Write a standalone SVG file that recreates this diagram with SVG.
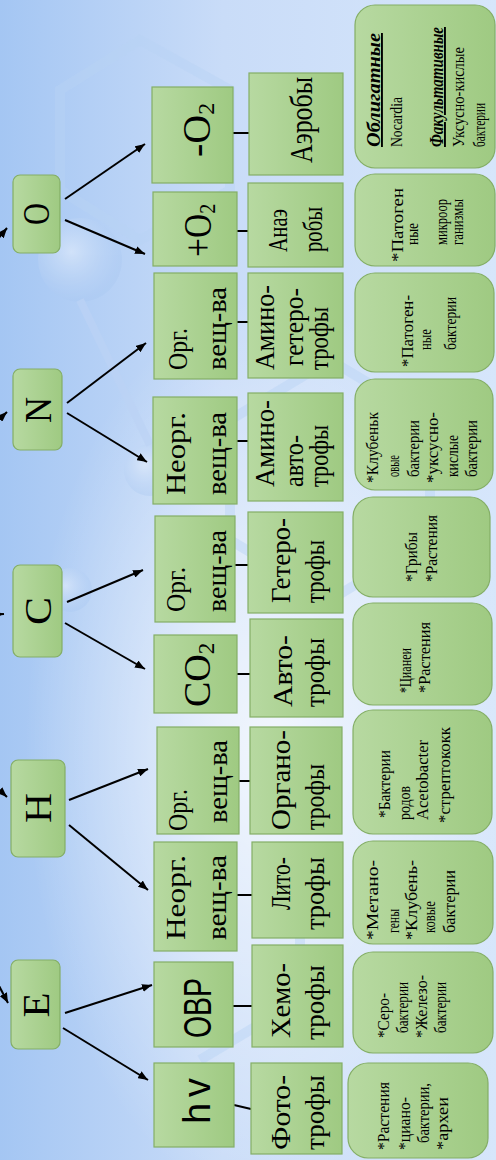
<svg xmlns="http://www.w3.org/2000/svg" width="496" height="1160" viewBox="0 0 496 1160">
<defs>
<linearGradient id="bg" x1="0" y1="0" x2="1" y2="0">
<stop offset="0" stop-color="#a4c6f3"/>
<stop offset="0.45" stop-color="#c9dcf8"/>
<stop offset="1" stop-color="#d6e6fb"/>
</linearGradient>
<radialGradient id="glow" cx="0.55" cy="0.55" r="0.5">
<stop offset="0" stop-color="#ffffff" stop-opacity="0.75"/>
<stop offset="1" stop-color="#ffffff" stop-opacity="0"/>
</radialGradient>
<radialGradient id="sph" cx="0.4" cy="0.4" r="0.6">
<stop offset="0" stop-color="#e4eefc" stop-opacity="0.9"/>
<stop offset="1" stop-color="#a9c8f2" stop-opacity="0.5"/>
</radialGradient>
<linearGradient id="gf" x1="0" y1="0" x2="0" y2="1">
<stop offset="0" stop-color="#b7d9a1"/>
<stop offset="1" stop-color="#9fca82"/>
</linearGradient>
<marker id="ah" viewBox="0 0 10 8" refX="10" refY="4" markerWidth="10" markerHeight="8" markerUnits="userSpaceOnUse" orient="auto">
<path d="M0,0 L10,4 L0,8 z" fill="#000"/>
</marker>
<style>
.n{fill:url(#gf);stroke:#84ae66;stroke-width:1.2}
.t{font-family:"Liberation Serif","Times New Roman",serif;fill:#000}
.s{font-family:"Liberation Sans",Arial,sans-serif;fill:#000}
.L{font-size:38px;text-anchor:middle}
.b{font-size:28px}
.m{font-size:16px}
.h{font-size:19px;font-weight:bold;font-style:italic;text-decoration:underline}
.c line{stroke:#000;stroke-width:2}
.c .a{marker-end:url(#ah)}
</style>
</defs>
<rect x="0" y="0" width="496" height="1160" fill="url(#bg)"/>
<rect x="0" y="250" width="496" height="910" fill="url(#glow)"/>
<g opacity="0.45" fill="none" stroke="#b9d2f5" stroke-width="10">
<path d="M60,90 L140,40 L230,90 L230,190 L140,240 L60,190 Z"/>
<path d="M230,420 L330,360 L430,420 L430,540 L330,600 L230,540 Z"/>
<path d="M300,880 L300,1000 L200,1060"/>
</g>
<g opacity="0.7">
<circle cx="80" cy="260" r="42" fill="url(#sph)"/>
<circle cx="70" cy="590" r="22" fill="url(#sph)"/>
<circle cx="150" cy="470" r="26" fill="url(#sph)"/>
<line x1="80" y1="300" x2="150" y2="445" stroke="#bcd3f5" stroke-width="8"/>
</g>
<g transform="translate(0 1160) rotate(-90)">
<g class="c">
<line class="a" x1="961" y1="65" x2="1016" y2="145"/>
<line class="a" x1="940" y1="65" x2="906" y2="145"/>
<line class="a" x1="757" y1="67" x2="817" y2="146"/>
<line class="a" x1="747" y1="67" x2="698" y2="147"/>
<line class="a" x1="558" y1="67" x2="590" y2="143"/>
<line class="a" x1="537" y1="65" x2="491" y2="145"/>
<line class="a" x1="360" y1="69" x2="391" y2="148"/>
<line class="a" x1="335" y1="69" x2="270" y2="148"/>
<line class="a" x1="147" y1="65" x2="175" y2="152"/>
<line class="a" x1="132" y1="63" x2="80" y2="148"/>
<line class="a" x1="904" y1="-16" x2="932" y2="7"/>
<line class="a" x1="727" y1="-16" x2="748" y2="7"/>
<line class="a" x1="545" y1="-16" x2="546" y2="4"/>
<line class="a" x1="384" y1="-16" x2="363" y2="7"/>
<line class="a" x1="199" y1="-14" x2="157" y2="8"/>
<line x1="1027" y1="233" x2="1027" y2="249"/>
<line x1="929" y1="237" x2="929" y2="248"/>
<line x1="838" y1="237" x2="838" y2="248"/>
<line x1="719" y1="237" x2="719" y2="248"/>
<line x1="595" y1="235" x2="595" y2="248"/>
<line x1="486" y1="237" x2="486" y2="250"/>
<line x1="379" y1="239" x2="379" y2="250"/>
<line x1="265" y1="237" x2="265" y2="252"/>
<line x1="154" y1="233" x2="154" y2="252"/>
<line x1="55" y1="234" x2="51" y2="251"/>
</g>
<g id="nO"><rect class="n" x="907" y="13" width="78" height="47" rx="7"/><text class="t L" x="946" y="49" textLength="22" lengthAdjust="spacingAndGlyphs">O</text></g>
<g id="nN"><rect class="n" x="710" y="13" width="81" height="49" rx="7"/><text class="t L" x="750" y="51" textLength="26" lengthAdjust="spacingAndGlyphs">N</text></g>
<g id="nC"><rect class="n" x="503" y="13" width="92" height="49" rx="7"/><text class="t L" x="549" y="51" textLength="28" lengthAdjust="spacingAndGlyphs">C</text></g>
<g id="nH"><rect class="n" x="303" y="11" width="97" height="54" rx="7"/><text class="t L" x="352" y="51" textLength="30" lengthAdjust="spacingAndGlyphs">H</text></g>
<g id="nE"><rect class="n" x="111" y="11" width="89" height="49" rx="7"/><text class="t L" x="155" y="49" textLength="25" lengthAdjust="spacingAndGlyphs">E</text></g>

<g id="mO2"><rect class="n" x="977" y="152" width="96" height="81"/><text class="t" x="1003" y="210" font-size="40">-O<tspan font-size="24" dy="4">2</tspan></text></g>
<g id="pO2"><rect class="n" x="894" y="153" width="74" height="84"/><text class="t" transform="translate(903 211) scale(0.84 1)" font-size="40">+O<tspan font-size="24" dy="4">2</tspan></text></g>
<g id="orgN"><rect class="n" x="781" y="154" width="106" height="83"/><text class="t b" x="790" y="187" textLength="42" lengthAdjust="spacingAndGlyphs">Орг.</text><text class="t b" x="790" y="226" textLength="83" lengthAdjust="spacingAndGlyphs">вещ-ва</text></g>
<g id="neoN"><rect class="n" x="656" y="153" width="107" height="84"/><text class="t b" x="665" y="185" textLength="83" lengthAdjust="spacingAndGlyphs">Неорг.</text><text class="t b" x="665" y="226" textLength="83" lengthAdjust="spacingAndGlyphs">вещ-ва</text></g>
<g id="orgC"><rect class="n" x="538" y="155" width="106" height="80"/><text class="t b" x="548" y="185" textLength="45" lengthAdjust="spacingAndGlyphs">Орг.</text><text class="t b" x="548" y="226" textLength="82" lengthAdjust="spacingAndGlyphs">вещ-ва</text></g>
<g id="co2"><rect class="n" x="447" y="154" width="78" height="83"/><text class="t" x="453" y="210" font-size="38">CO<tspan font-size="23" dy="4">2</tspan></text></g>
<g id="orgH"><rect class="n" x="326" y="157" width="107" height="82"/><text class="t b" x="329" y="187" textLength="42" lengthAdjust="spacingAndGlyphs">Орг.</text><text class="t b" x="337" y="227" textLength="83" lengthAdjust="spacingAndGlyphs">вещ-ва</text></g>
<g id="neoH"><rect class="n" x="209" y="154" width="109" height="83"/><text class="t b" x="220" y="185" textLength="85" lengthAdjust="spacingAndGlyphs">Неорг.</text><text class="t b" x="220" y="226" textLength="85" lengthAdjust="spacingAndGlyphs">вещ-ва</text></g>
<g id="ovr"><rect class="n" x="113" y="154" width="85" height="79"/><text class="s" x="122" y="211" font-size="38" textLength="60" lengthAdjust="spacingAndGlyphs">ОВР</text></g>
<g id="hv"><rect class="n" x="13" y="154" width="84" height="80"/><text class="s" x="36" y="210" font-size="38" textLength="46" lengthAdjust="spacing">hv</text></g>

<g id="aer"><rect class="n" x="985" y="249" width="102" height="94"/><text class="t" x="997" y="312" font-size="32" textLength="86" lengthAdjust="spacingAndGlyphs">Аэробы</text></g>
<g id="anaer"><rect class="n" x="893" y="248" width="84" height="95"/><text class="t b" x="908" y="287" textLength="43" lengthAdjust="spacingAndGlyphs">Анаэ</text><text class="t b" x="908" y="322" textLength="45" lengthAdjust="spacingAndGlyphs">робы</text></g>
<g id="amget"><rect class="n" x="782" y="248" width="105" height="95"/><text class="t b" x="790" y="274" textLength="85" lengthAdjust="spacingAndGlyphs">Амино-</text><text class="t b" x="794" y="303" textLength="78" lengthAdjust="spacingAndGlyphs">гетеро-</text><text class="t b" x="790" y="328" textLength="63" lengthAdjust="spacingAndGlyphs">трофы</text></g>
<g id="amavt"><rect class="n" x="659" y="248" width="108" height="95"/><text class="t b" x="673" y="274" textLength="87" lengthAdjust="spacingAndGlyphs">Амино-</text><text class="t b" x="673" y="303" textLength="52" lengthAdjust="spacingAndGlyphs">авто-</text><text class="t b" x="673" y="328" textLength="62" lengthAdjust="spacingAndGlyphs">трофы</text></g>
<g id="get"><rect class="n" x="547" y="248" width="101" height="95"/><text class="t b" x="557" y="290" textLength="85" lengthAdjust="spacingAndGlyphs">Гетеро-</text><text class="t b" x="557" y="324" textLength="63" lengthAdjust="spacingAndGlyphs">трофы</text></g>
<g id="avt"><rect class="n" x="443" y="250" width="98" height="93"/><text class="t b" x="453" y="292" textLength="72" lengthAdjust="spacingAndGlyphs">Авто-</text><text class="t b" x="453" y="324" textLength="69" lengthAdjust="spacingAndGlyphs">трофы</text></g>
<g id="org"><rect class="n" x="326" y="250" width="107" height="92"/><text class="t b" x="330" y="290" textLength="100" lengthAdjust="spacingAndGlyphs">Органо-</text><text class="t b" x="330" y="324" textLength="66" lengthAdjust="spacingAndGlyphs">трофы</text></g>
<g id="lit"><rect class="n" x="222" y="252" width="96" height="91"/><text class="t b" x="250" y="290" textLength="53" lengthAdjust="spacingAndGlyphs">Лито-</text><text class="t b" x="230" y="324" textLength="73" lengthAdjust="spacingAndGlyphs">трофы</text></g>
<g id="hem"><rect class="n" x="113" y="252" width="102" height="91"/><text class="t b" x="122" y="290" textLength="75" lengthAdjust="spacingAndGlyphs">Хемо-</text><text class="t b" x="120" y="324" textLength="75" lengthAdjust="spacingAndGlyphs">трофы</text></g>
<g id="fot"><rect class="n" x="6" y="251" width="91" height="91"/><text class="t b" x="10" y="290" textLength="75" lengthAdjust="spacingAndGlyphs">Фото-</text><text class="t b" x="10" y="324" textLength="75" lengthAdjust="spacingAndGlyphs">трофы</text></g>

<g id="ex1"><rect class="n" x="992" y="355" width="163" height="140" rx="20"/><text class="t h" x="1013" y="380" textLength="114" lengthAdjust="spacingAndGlyphs">Облигатные</text><text class="t m" x="1013" y="402" textLength="50" lengthAdjust="spacingAndGlyphs">Nocardia</text><text class="t h" x="1013" y="443" textLength="120" lengthAdjust="spacingAndGlyphs">Факультативные</text><text class="t m" x="1013" y="464" textLength="100" lengthAdjust="spacingAndGlyphs">Уксусно-кислые</text><text class="t m" x="1013" y="485" textLength="44" lengthAdjust="spacingAndGlyphs">бактерии</text></g>
<g id="ex2"><rect class="n" x="894" y="355" width="92" height="140" rx="20"/><text class="t m" x="898" y="403" textLength="74" lengthAdjust="spacingAndGlyphs">*Патоген</text><text class="t m" x="915" y="418" textLength="22" lengthAdjust="spacingAndGlyphs">ные</text><text class="t m" x="915" y="447" textLength="46" lengthAdjust="spacingAndGlyphs">микроор</text><text class="t m" x="915" y="463" textLength="46" lengthAdjust="spacingAndGlyphs">ганизмы</text></g>
<g id="ex3"><rect class="n" x="788" y="355" width="99" height="139" rx="20"/><text class="t m" x="793" y="413" textLength="72" lengthAdjust="spacingAndGlyphs">*Патоген-</text><text class="t m" x="810" y="431" textLength="21" lengthAdjust="spacingAndGlyphs">ные</text><text class="t m" x="810" y="456" textLength="53" lengthAdjust="spacingAndGlyphs">бактерии</text></g>
<g id="ex4"><rect class="n" x="670" y="355" width="111" height="138" rx="20"/><text class="t m" x="677" y="378" textLength="71" lengthAdjust="spacingAndGlyphs">*Клубеньк</text><text class="t m" x="683" y="399" textLength="22" lengthAdjust="spacingAndGlyphs">овые</text><text class="t m" x="683" y="419" textLength="57" lengthAdjust="spacingAndGlyphs">бактерии</text><text class="t m" x="677" y="438" textLength="71" lengthAdjust="spacingAndGlyphs">*уксусно-</text><text class="t m" x="683" y="458" textLength="42" lengthAdjust="spacingAndGlyphs">кислые</text><text class="t m" x="683" y="477" textLength="57" lengthAdjust="spacingAndGlyphs">бактерии</text></g>
<g id="ex5"><rect class="n" x="563" y="353" width="100" height="137" rx="20"/><text class="t m" x="578" y="417" textLength="50" lengthAdjust="spacingAndGlyphs">*Грибы</text><text class="t m" x="578" y="437" textLength="67" lengthAdjust="spacingAndGlyphs">*Растения</text></g>
<g id="ex6"><rect class="n" x="455" y="353" width="102" height="139" rx="20"/><text class="t m" x="467" y="411" textLength="45" lengthAdjust="spacingAndGlyphs">*Цианеи</text><text class="t m" x="467" y="430" textLength="71" lengthAdjust="spacingAndGlyphs">*Растения</text></g>
<g id="ex7"><rect class="n" x="326" y="353" width="124" height="139" rx="20"/><text class="t m" x="342" y="390" textLength="68" lengthAdjust="spacingAndGlyphs">*Бактерии</text><text class="t m" x="340" y="410" textLength="34" lengthAdjust="spacingAndGlyphs">родов</text><text class="t m" x="340" y="428" textLength="80" lengthAdjust="spacingAndGlyphs">Acetobacter</text><text class="t m" x="337" y="450" textLength="96" lengthAdjust="spacingAndGlyphs">*стрептококк</text></g>
<g id="ex8"><rect class="n" x="216" y="353" width="103" height="140" rx="20"/><text class="t m" x="220" y="378" textLength="80" lengthAdjust="spacingAndGlyphs">*Метано-</text><text class="t m" x="227" y="399" textLength="24" lengthAdjust="spacingAndGlyphs">гены</text><text class="t m" x="220" y="417" textLength="80" lengthAdjust="spacingAndGlyphs">*Клубень-</text><text class="t m" x="227" y="435" textLength="32" lengthAdjust="spacingAndGlyphs">ковые</text><text class="t m" x="227" y="455" textLength="63" lengthAdjust="spacingAndGlyphs">бактерии</text></g>
<g id="ex9"><rect class="n" x="107" y="353" width="101" height="140" rx="20"/><text class="t m" x="122" y="389" textLength="45" lengthAdjust="spacingAndGlyphs">*Серо-</text><text class="t m" x="127" y="408" textLength="51" lengthAdjust="spacingAndGlyphs">бактерии</text><text class="t m" x="122" y="427" textLength="63" lengthAdjust="spacingAndGlyphs">*Железо-</text><text class="t m" x="127" y="446" textLength="51" lengthAdjust="spacingAndGlyphs">бактерии</text></g>
<g id="ex10"><rect class="n" x="2" y="348" width="95" height="140" rx="20"/><text class="t m" x="10" y="389" textLength="68" lengthAdjust="spacingAndGlyphs">*Растения</text><text class="t m" x="10" y="410" textLength="53" lengthAdjust="spacingAndGlyphs">*циано-</text><text class="t m" x="17" y="429" textLength="60" lengthAdjust="spacingAndGlyphs">бактерии,</text><text class="t m" x="10" y="448" textLength="53" lengthAdjust="spacingAndGlyphs">*археи</text></g>
</g>
</svg>
